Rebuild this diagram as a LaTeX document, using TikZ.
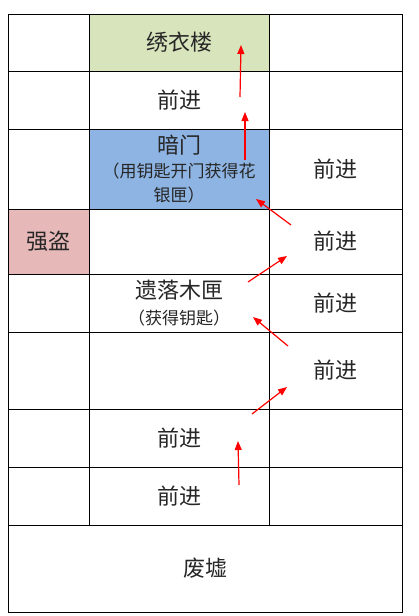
\documentclass[tikz,border=0pt]{standalone}
\usepackage{fontspec}
\setmainfont{Noto Sans CJK SC}
\usetikzlibrary{arrows.meta}
\definecolor{towergreen}{HTML}{D8E4BC}
\definecolor{doorblue}{HTML}{8DB4E2}
\definecolor{banditred}{HTML}{E6B8B7}
\newcommand{\subsize}{\fontsize{17pt}{24pt}\selectfont}

\begin{document}
\begin{tikzpicture}[x=1pt, y=-1pt,
    cell/.style={rectangle, draw, line width=0.9pt, inner sep=0pt, align=center,
      text=black!85, font=\fontsize{22pt}{24pt}\selectfont},
    route/.style={-{Triangle[length=9pt, width=7pt]}, red, line width=1.2pt}]
  \useasboundingbox (0,0) rectangle (418,616);
  \fill[white] (0,0) rectangle (418,616);

  % left column
  \begin{scope}[every node/.style={cell, minimum width=81pt}]
    \node[minimum height=57pt] (l1) at (48.5, 42.5) {};
    \node[minimum height=58pt] (l2) at (48.5, 100) {};
    \node[minimum height=80pt] (l3) at (48.5, 169) {};
    \node[minimum height=65pt, fill=banditred] (l4) at (48.5, 241.5) {强盗};
    \node[minimum height=58pt] (l5) at (48.5, 303) {};
    \node[minimum height=77pt] (l6) at (48.5, 370.5) {};
    \node[minimum height=58pt] (l7) at (48.5, 438) {};
    \node[minimum height=58pt] (l8) at (48.5, 496) {};
  \end{scope}
  % middle column
  \begin{scope}[every node/.style={cell, minimum width=180pt}]
    \node[minimum height=57pt, fill=towergreen] (m1) at (179, 42.5) {绣衣楼};
    \node[minimum height=58pt] (m2) at (179, 100) {前进};
    \node[minimum height=80pt, fill=doorblue] (m3) at (179, 169)
      {暗门\\{\subsize（用钥匙开门获得花}\\{\subsize 银匣）}};
    \node[minimum height=65pt] (m4) at (179, 241.5) {};
    \node[minimum height=58pt] (m5) at (179, 303)
      {遗落木匣\\[2pt]{\subsize（获得钥匙）}};
    \node[minimum height=77pt] (m6) at (179, 370.5) {};
    \node[minimum height=58pt] (m7) at (179, 438) {前进};
    \node[minimum height=58pt] (m8) at (179, 496) {前进};
  \end{scope}
  % right column
  \begin{scope}[every node/.style={cell, minimum width=133pt}]
    \node[minimum height=57pt] (r1) at (335.5, 42.5) {};
    \node[minimum height=58pt] (r2) at (335.5, 100) {};
    \node[minimum height=80pt] (r3) at (335.5, 169) {前进};
    \node[minimum height=65pt] (r4) at (335.5, 241.5) {前进};
    \node[minimum height=58pt] (r5) at (335.5, 303) {前进};
    \node[minimum height=77pt] (r6) at (335.5, 370.5) {前进};
    \node[minimum height=58pt] (r7) at (335.5, 438) {};
    \node[minimum height=58pt] (r8) at (335.5, 496) {};
  \end{scope}
  \node[cell, minimum width=394pt, minimum height=87pt] (ruin) at (205, 568.5) {废墟};

  % route ends
  \coordinate (s1) at (240, 97);   \coordinate (t1) at (241, 45);
  \coordinate (s2) at (245, 160);  \coordinate (t2) at (245, 112);
  \coordinate (s3) at (291, 225);  \coordinate (t3) at (256, 199);
  \coordinate (s4) at (248, 282);  \coordinate (t4) at (287, 256);
  \coordinate (s5) at (288, 346);  \coordinate (t5) at (253, 317);
  \coordinate (s6) at (252, 414);  \coordinate (t6) at (287, 387);
  \coordinate (s7) at (239, 485);  \coordinate (t7) at (238, 441);

  \draw[route] (s1) -- (t1);
  \draw[route] (s2) -- (t2);
  \draw[route] (s3) -- (t3);
  \draw[route] (s4) -- (t4);
  \draw[route] (s5) -- (t5);
  \draw[route] (s6) -- (t6);
  \draw[route] (s7) -- (t7);
\end{tikzpicture}
\end{document}
